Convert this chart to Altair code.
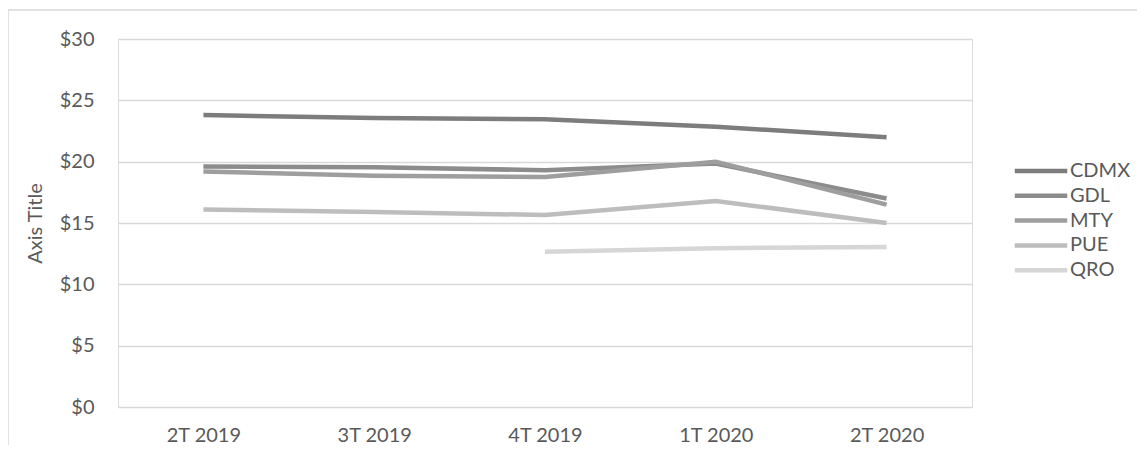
import altair as alt
import pandas as pd

quarters = ["2T 2019", "3T 2019", "4T 2019", "1T 2020", "2T 2020"]
cities = ["CDMX", "GDL", "MTY", "PUE", "QRO"]
cdmx = [23.8, 23.55, 23.45, 22.85, 22.0]
gdl = [19.6, 19.55, 19.3, 19.85, 17.0]
mty = [19.2, 18.85, 18.75, 20.0, 16.5]
pue = [16.1, 15.9, 15.65, 16.8, 15.0]
qro = [None, None, 12.65, 12.95, 13.05]
colors = ["#7d7d7d", "#8c8c8c", "#9e9e9e", "#bdbdbd", "#d6d6d6"]

rows = []
for city, vals in zip(cities, [cdmx, gdl, mty, pue, qro]):
    for q, v in zip(quarters, vals):
        if v is not None:
            rows.append({"quarter": q, "city": city, "value": v})
df = pd.DataFrame(rows)

FONT = "Lato"
TXT = "#595959"

lines = alt.Chart(df).mark_line(strokeWidth=4.5, strokeCap="butt", clip=False).encode(
    x=alt.X("quarter:N", sort=quarters, scale=alt.Scale(type="point", padding=0.5),
            axis=alt.Axis(title=None, labelAngle=0, labelFont=FONT, labelFontSize=20,
                          labelColor=TXT, domain=False, ticks=False, labelPadding=18,
                          grid=False)),
    y=alt.Y("value:Q", scale=alt.Scale(domain=[0, 30], nice=False),
            axis=alt.Axis(title="Axis Title", values=[0, 5, 10, 15, 20, 25, 30],
                          format="$d", labelFont=FONT, labelFontSize=20, labelColor=TXT,
                          titleFont=FONT, titleFontSize=20, titleColor=TXT,
                          titleFontWeight="normal", titlePadding=14,
                          domain=False, ticks=False, labelPadding=24,
                          grid=True, gridColor="#d9d9d9", gridWidth=1.3)),
    color=alt.Color("city:N", sort=cities,
                    scale=alt.Scale(domain=cities, range=colors),
                    legend=alt.Legend(title=None, orient="none", legendX=910, legendY=119,
                                      symbolType="M-2.5,0H2.5", symbolSize=441,
                                      symbolStrokeWidth=4.5, symbolFillColor="transparent",
                                      labelFont=FONT,
                                      labelFontSize=20, labelColor=TXT, labelOffset=16,
                                      rowPadding=1.8, padding=0)),
    order=alt.Order("q:O"),
).transform_calculate(q="indexof(" + str(quarters) + ", datum.quarter)")

frame_top = alt.Chart(pd.DataFrame({"a": [0]})).mark_rule(color="#d9d9d9", strokeWidth=1.5).encode(
    x=alt.value(-110), x2=alt.value(1100), y=alt.value(-29))
frame_left = alt.Chart(pd.DataFrame({"a": [0]})).mark_rule(color="#d9d9d9", strokeWidth=1.5).encode(
    x=alt.value(-110), y=alt.value(-29), y2=alt.value(420))

chart = alt.layer(frame_top, frame_left, lines).properties(
    width=854, height=368,
    autosize=alt.AutoSizeParams(type="none"),
    padding={"left": 110, "top": 31, "right": 165, "bottom": 38},
).configure_view(stroke=None).configure(background="white")

chart.save("out.html", embed_options={"renderer": "svg", "actions": False})
